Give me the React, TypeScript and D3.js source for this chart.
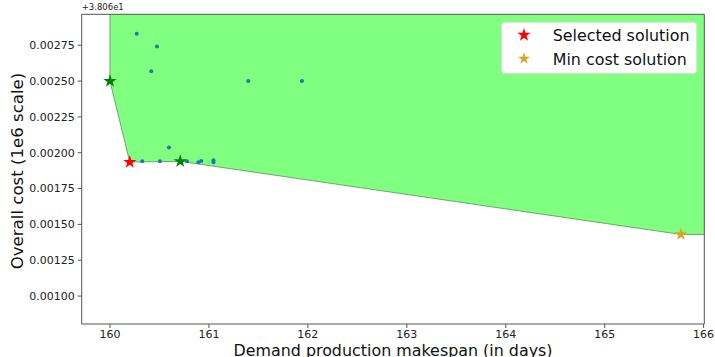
import * as d3 from 'd3';
import React from 'react';

// values are shown relative to the offset +3.806e1
const pointX = [160.27, 160.475, 160.417, 161.398, 161.94, 160.596, 160.326, 160.505, 160.778, 160.893, 160.923, 161.046, 161.046];
const pointY = [0.002831, 0.002741, 0.002569, 0.002501, 0.002501, 0.002037, 0.001941, 0.001941, 0.001941, 0.001934, 0.001943, 0.001948, 0.001934];

const frontX = [160.0, 160.2, 160.71, 165.77];
const frontY = [0.0025, 0.001935, 0.00194, 0.00143];

const greenX = [160.0, 160.71];
const greenY = [0.0025, 0.00194];

const selected = [160.2, 0.001935];
const minCost = [165.77, 0.00143];

const xTicks = [160, 161, 162, 163, 164, 165, 166];
const yTicks = [0.001, 0.00125, 0.0015, 0.00175, 0.002, 0.00225, 0.0025, 0.00275];

const legendLabels = ['Selected solution', 'Min cost solution'];
const legendColors = ['red', 'goldenrod'];

const W = 715, H = 357;
const margin = { top: 14.3, right: 10.7, bottom: 33, left: 81.7 };
const font = 'DejaVu Sans, sans-serif';

export default function App() {
  const x = d3.scaleLinear().domain([159.714, 166.007]).range([margin.left, W - margin.right]);
  const y = d3.scaleLinear().domain([0.000805, 0.002966]).range([H - margin.bottom, margin.top]);

  const star = d3.symbol().type(d3.symbolStar);

  // region above the frontier, running off the plot on the right and top
  const poly: [number, number][] = [[frontX[0], 0.01]];
  frontX.forEach((v, i) => poly.push([v, frontY[i]]));
  poly.push([170, frontY[frontY.length - 1]]);
  poly.push([170, 0.01]);
  const area = d3.line<[number, number]>().x(d => x(d[0])).y(d => y(d[1]));

  const fmt = d3.format('.5f');

  return (
    <div style={{ position: 'absolute', left: 0, top: 0 }}>
      <svg width={W} height={H} style={{ display: 'block', fontFamily: font }}>
        <defs>
          <clipPath id="plot">
            <rect x={margin.left} y={margin.top} width={W - margin.left - margin.right} height={H - margin.top - margin.bottom} />
          </clipPath>
        </defs>
        <rect width={W} height={H} fill="white" />
        <g clipPath="url(#plot)">
          <path d={area(poly) + 'Z'} fill="#80ff80" stroke="#6aa86a" strokeWidth={1} />
          {pointX.map((v, i) => (
            <circle key={i} cx={x(v)} cy={y(pointY[i])} r={2} fill="#1f77b4" />
          ))}
          {greenX.map((v, i) => (
            <path key={i} d={star.size(55)()!} transform={`translate(${x(v)},${y(greenY[i])})`} fill="green" />
          ))}
          <path d={star.size(55)()!} transform={`translate(${x(selected[0])},${y(selected[1])})`} fill="red" />
          <path d={star.size(50)()!} transform={`translate(${x(minCost[0])},${y(minCost[1])})`} fill="goldenrod" />
        </g>

        {/* axes */}
        <line x1={margin.left} x2={margin.left} y1={margin.top} y2={H - margin.bottom} stroke="#555" />
        <line x1={margin.left} x2={W - margin.right} y1={H - margin.bottom} y2={H - margin.bottom} stroke="#555" />
        <line x1={W - margin.right} x2={W - margin.right} y1={margin.top} y2={H - margin.bottom} stroke="#555" />
        <line x1={margin.left} x2={W - margin.right} y1={margin.top} y2={margin.top} stroke="#555" />

        {xTicks.map(t => (
          <g key={t} transform={`translate(${x(t)},${H - margin.bottom})`}>
            <line y2={4} stroke="#555" />
            <text y={14} textAnchor="middle" fontSize={11} fill="#222">{t}</text>
          </g>
        ))}
        {yTicks.map(t => (
          <g key={t} transform={`translate(${margin.left},${y(t)})`}>
            <line x2={-4} stroke="#555" />
            <text x={-7} dy="0.35em" textAnchor="end" fontSize={11} fill="#222">{fmt(t)}</text>
          </g>
        ))}
        <text x={margin.left} y={10} fontSize={8.5} fill="#222">+3.806e1</text>

        <text x={393} y={355.5} textAnchor="middle" fontSize={15.9} fill="#111">Demand production makespan (in days)</text>
        <text transform="translate(23,171) rotate(-90)" textAnchor="middle" fontSize={16.6} fill="#111">Overall cost (1e6 scale)</text>

        {/* legend */}
        <rect x={501.7} y={22.3} width={195} height={51} rx={3} fill="white" stroke="#ddd" />
        {legendLabels.map((l, i) => (
          <g key={l} transform={`translate(0,${i * 23.7})`}>
            <path d={star.size(i === 0 ? 55 : 45)()!} transform="translate(524,35)" fill={legendColors[i]} />
            <text x={552.7} y={41} fontSize={15.9} fill="#111">{l}</text>
          </g>
        ))}
      </svg>
    </div>
  );
}
